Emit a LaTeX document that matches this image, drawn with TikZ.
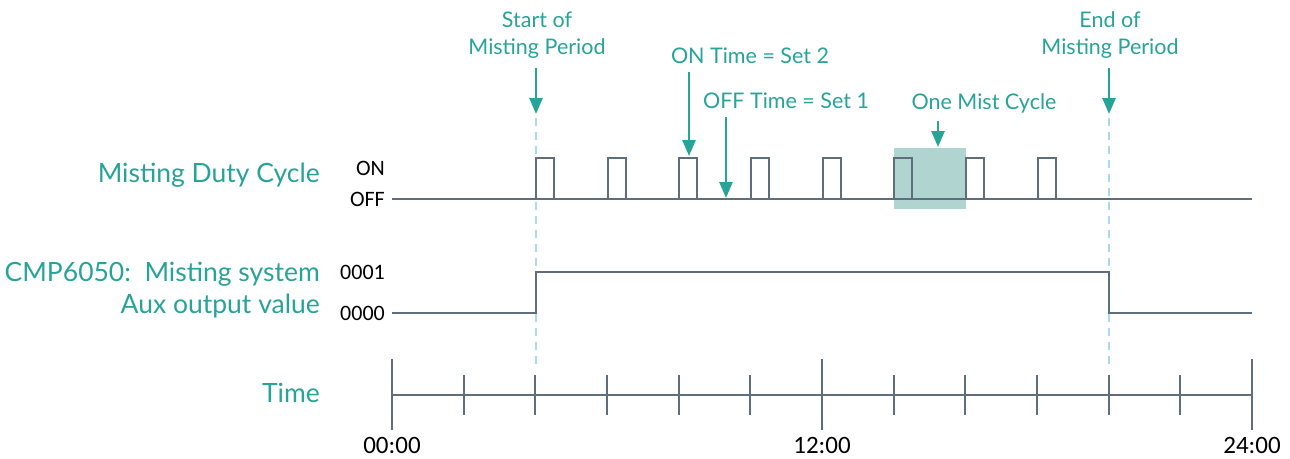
\documentclass[tikz,border=0pt]{standalone}
\usepackage{fontspec}
\setmainfont{Lato}
\newfontfamily\valfont{Carlito}
\usepackage{xcolor}
\usetikzlibrary{arrows.meta,positioning,calc}

\definecolor{mistteal}{HTML}{27A398}
\definecolor{mistbox}{HTML}{B0D4D0}
\definecolor{sigline}{HTML}{5F6E7C}
\definecolor{periodline}{HTML}{A9DAF3}

\tikzset{
  signal/.style={line width=2pt, sigline, line join=miter},
  tick/.style={line width=2.2pt, sigline},
  period/.style={line width=1.5pt, periodline, dash pattern=on 8pt off 6pt},
  mistarrow/.style={line width=2.6pt, mistteal, -{Triangle[width=13pt,length=16pt]}},
  rowlabel/.style={anchor=east, mistteal, font=\fontsize{26.5}{30}\selectfont, inner sep=0pt},
  notelabel/.style={mistteal, font=\fontsize{21.5}{26.5}\selectfont, align=center, inner sep=0pt},
  levellabel/.style={anchor=east, font=\valfont\fontsize{22}{24}\selectfont, inner sep=0pt},
  timelabel/.style={font=\valfont\fontsize{25}{28}\selectfont, inner sep=0pt}
}

\begin{document}
\begin{tikzpicture}[x=1pt, y=-1pt]
    \useasboundingbox (0,0) rectangle (1290,458);

    % Row labels
    \node [rowlabel] (dutylbl) at (320,175) {Misting Duty Cycle};
    \node [rowlabel] (auxlbl1) at (320,274) {CMP6050:\ \ Misting system};
    \node [rowlabel] (auxlbl2) at (320,306) {Aux output value};
    \node [rowlabel] (timelbl) at (320,393) {Time};

    % Signal levels
    \node [levellabel] (onlbl) at (385,168) {ON};
    \node [levellabel] (offlbl) at (385,199) {OFF};
    \node [levellabel] (hilbl) at (385,272) {0001};
    \node [levellabel] (lolbl) at (385,313) {0000};

    % Start and end of misting period (behind the signals)
    \coordinate (startpt) at (536,114);
    \coordinate (endpt) at (1109,114);
    \draw [period] (536,118) -- (536,366);
    \draw [period] (1109,118) -- (1109,366);

    % One mist cycle highlight
    \fill [mistbox] (894,148) rectangle (966,209);

    % Duty cycle: 8 pulses, one every 2 hours
    \draw [signal] (392,199) -- (1252,199);
    \foreach \i in {0,...,7}
        \draw [signal] ({536+\i*71.667},199) -- ++(0,-41) -- ++(18,0) -- ++(0,41);

    % Aux output
    \draw [signal] (392,313) -- (536,313) -- (536,272) -- (1109,272) -- (1109,313) -- (1252,313);

    % Time axis
    \draw [tick] (392,395) -- (1252,395);
    \foreach \t in {1,2,3,4,5,7,8,9,10,11}
        \draw [tick] ({392+\t*71.667},375) -- ++(0,40);
    \foreach \t/\txt in {0/00:00, 6/12:00, 12/24:00} {
        \draw [tick] ({392+\t*71.667},359) -- ++(0,71);
        \node [timelabel] (t\t) at ({392+\t*71.667},445) {\txt};
    }

    % Period notes
    \node [notelabel] (startlbl) at (537,35) {Start of\\Misting Period};
    \node [notelabel] (endlbl) at (1110,35) {End of\\Misting Period};
    \draw [mistarrow] ([yshift=-10pt]startlbl.south -| startpt) -- (startpt);
    \draw [mistarrow] ([yshift=-10pt]endlbl.south -| endpt) -- (endpt);

    % ON / OFF time notes
    \node [notelabel] (ontime) at (750,56) {ON Time = Set 2};
    \node [notelabel] (offtime) at (786,101) {OFF Time = Set 1};
    \coordinate (onpt) at (689,156);
    \coordinate (offpt) at (726,198);
    \draw [mistarrow] ([yshift=-8pt]ontime.south -| onpt) -- (onpt);
    \draw [mistarrow] ([yshift=-8pt]offtime.south -| offpt) -- (offpt);

    % One mist cycle note
    \node [notelabel] (cyclelbl) at (984,103) {One Mist Cycle};
    \coordinate (cyclept) at (938,147);
    \draw [mistarrow] ([yshift=-8pt]cyclelbl.south -| cyclept) -- (cyclept);
\end{tikzpicture}
\end{document}
